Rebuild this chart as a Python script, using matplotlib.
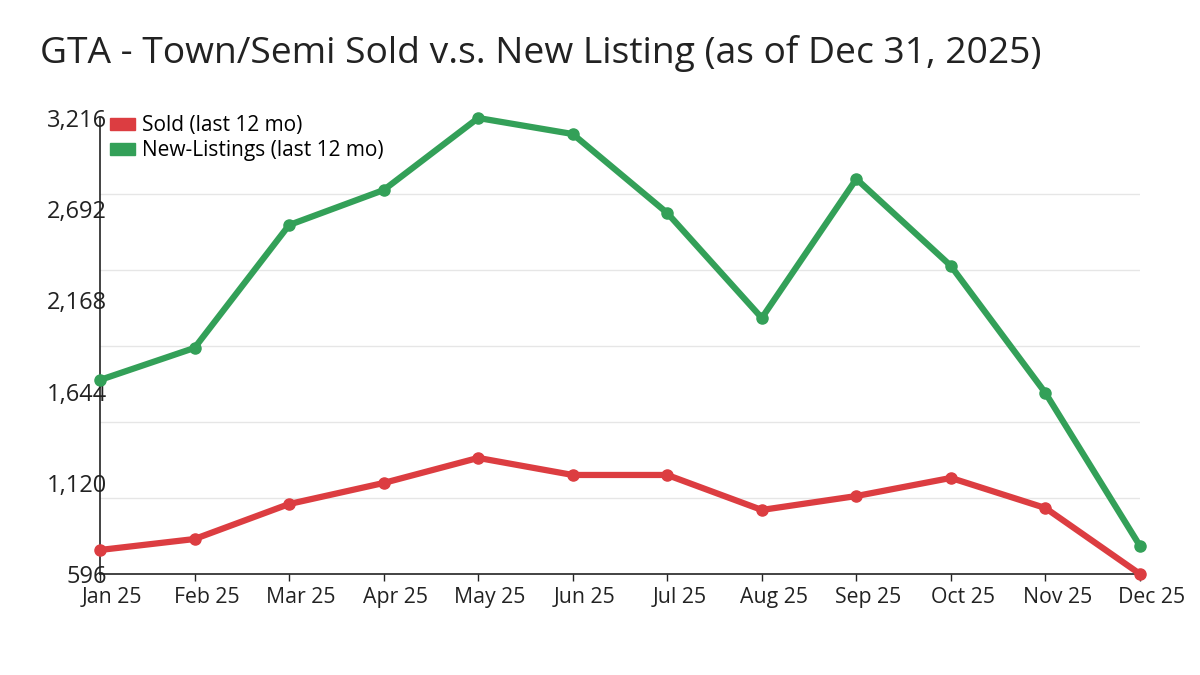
import numpy as np
from matplotlib import pyplot as plt
from matplotlib import transforms
from matplotlib.patches import Patch
from matplotlib.ticker import FixedLocator, FuncFormatter, NullFormatter

plt.rcParams['font.family'] = ['Open Sans', 'DejaVu Sans']

months = ['Jan 25', 'Feb 25', 'Mar 25', 'Apr 25', 'May 25', 'Jun 25',
          'Jul 25', 'Aug 25', 'Sep 25', 'Oct 25', 'Nov 25', 'Dec 25']
sold = [734, 797, 998, 1119, 1263, 1165, 1165, 964, 1044, 1148, 975, 596]
listings = [1711, 1895, 2601, 2802, 3216, 3124, 2670, 2067, 2866, 2366, 1636, 757]

red = '#dc3d41'
green = '#33a058'

#---- Figure
fig = plt.figure(figsize=(12, 6.75), dpi=100)
ax = fig.add_axes([100/1200, 1 - 574/675, 1040/1200, 456/675])

x = np.arange(len(months))
ax.plot(x, sold, '-o', color=red, lw=4.5, ms=8, clip_on=False, zorder=3)
ax.plot(x, listings, '-o', color=green, lw=4.5, ms=8, clip_on=False, zorder=3)

lo, hi = min(sold), max(listings)
ax.set_xlim(0, len(months) - 1)
ax.set_ylim(lo, hi)

# tick marks on the months, labels sit a little to the right (as in the original)
ax.set_xticks(x)
ax.xaxis.set_major_formatter(NullFormatter())
ax.tick_params(axis='x', which='major', length=5, width=1, color='#222222')
shift = transforms.ScaledTranslation(12/100, -13/100, fig.dpi_scale_trans)
for xi, lab in zip(x, months):
    ax.text(xi, 0, lab, transform=ax.get_xaxis_transform() + shift,
            ha='center', va='top', fontsize=15.3, color='#222222')

ax.yaxis.set_major_locator(FixedLocator(np.linspace(lo, hi, 6)))
ax.yaxis.set_major_formatter(FuncFormatter(lambda v, p: f'{int(round(v)):,}'))
ax.yaxis.set_minor_locator(FixedLocator(np.linspace(lo, hi, 7)))
ax.tick_params(axis='y', which='both', length=0, pad=-5, labelsize=17, labelcolor='#222222')
ax.grid(which='minor', axis='y', color='#e6e6e6', lw=1)
ax.set_axisbelow(True)

for s in ['top', 'right']:
    ax.spines[s].set_visible(False)
for s in ['left', 'bottom']:
    ax.spines[s].set_color('#222222')
    ax.spines[s].set_linewidth(1.2)

handles = [Patch(color=red, label='Sold (last 12 mo)'),
           Patch(color=green, label='New-Listings (last 12 mo)')]
ax.legend(handles=handles, loc='upper left', bbox_to_anchor=(10/1040, 1 + 3/456),
          frameon=False, fontsize=15, handlelength=1.2, handleheight=0.5,
          handletextpad=0.35, labelspacing=0.2, borderaxespad=0,
          borderpad=0)

fig.text(40/1200, 1 - 63/675, 'GTA - Town/Semi Sold v.s. New Listing (as of Dec 31, 2025)',
         fontsize=26.8, color='#222222', ha='left', va='baseline')

plt.savefig('out.png', dpi=100)
